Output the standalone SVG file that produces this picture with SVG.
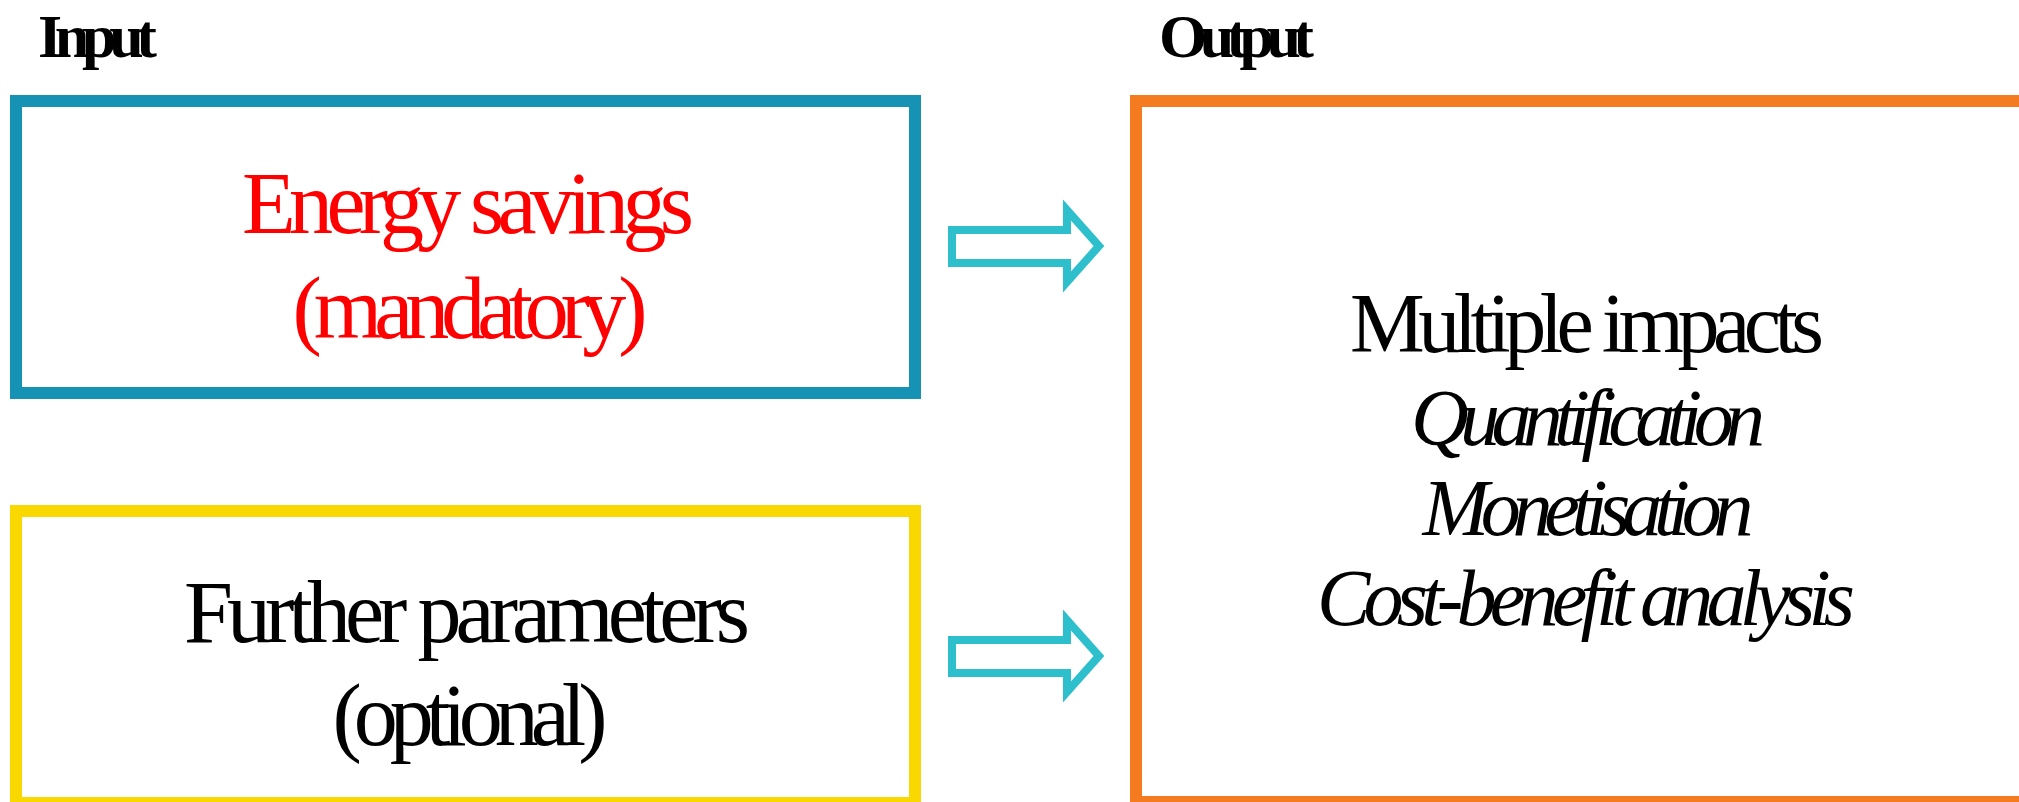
<svg xmlns="http://www.w3.org/2000/svg" width="2019" height="802" viewBox="0 0 2019 802">
  <defs>
    <style>
      .box { fill: #FFFFFF; stroke-width: 12; }
      .head { font-family: "Liberation Serif", "Times New Roman", serif; font-weight: bold; font-size: 62px; fill: #000000; }
      .lbl { font-family: "Liberation Serif", "Times New Roman", serif; font-size: 88px; text-anchor: middle; }
      .out { font-family: "Liberation Serif", "Times New Roman", serif; font-size: 84px; text-anchor: middle; fill: #000000; }
      .it { font-style: italic; font-size: 80px; }
      .arrow { fill: #FFFFFF; stroke: #2EBFCC; stroke-width: 8; stroke-linejoin: miter; }
    </style>
    <polygon id="block-arrow" points="952,230 1067,230 1067,210 1099,246 1067,282 1067,263 952,263"/>
  </defs>

  <rect width="2019" height="802" fill="#FFFFFF"/>

  <!-- column headings -->
  <g id="heading-input">
    <text class="head" x="38" y="57" textLength="119" lengthAdjust="spacing">Input</text>
  </g>
  <g id="heading-output">
    <text class="head" x="1159" y="57" textLength="155" lengthAdjust="spacing">Output</text>
  </g>

  <!-- input: energy savings -->
  <g id="energy-savings">
    <rect class="box" x="16" y="101" width="899" height="292" stroke="#1592B4"/>
    <text class="lbl" fill="#FF0000" x="468" y="233" textLength="452" lengthAdjust="spacing">Energy savings</text>
    <text class="lbl" fill="#FF0000" x="470" y="338" textLength="355" lengthAdjust="spacing">(mandatory)</text>
  </g>

  <!-- input: further parameters -->
  <g id="further-parameters">
    <rect class="box" x="16" y="511" width="899" height="292" stroke="#F9D800"/>
    <text class="lbl" fill="#000000" x="467" y="642" textLength="566" lengthAdjust="spacing">Further parameters</text>
    <text class="lbl" fill="#000000" x="470" y="745" textLength="275" lengthAdjust="spacing">(optional)</text>
  </g>

  <!-- output: multiple impacts -->
  <g id="multiple-impacts">
    <rect class="box" x="1136" y="101" width="900" height="701" stroke="#F47B20"/>
    <text class="out" x="1587" y="352" textLength="474" lengthAdjust="spacing">Multiple impacts</text>
    <text class="out it" x="1588" y="445" textLength="354" lengthAdjust="spacing">Quantification</text>
    <text class="out it" x="1588" y="535" textLength="331" lengthAdjust="spacing">Monetisation</text>
    <text class="out it" x="1586" y="625" textLength="538" lengthAdjust="spacing">Cost-benefit analysis</text>
  </g>

  <!-- connectors -->
  <g id="connectors">
    <use href="#block-arrow" class="arrow"/>
    <use href="#block-arrow" class="arrow" y="410"/>
  </g>
</svg>
